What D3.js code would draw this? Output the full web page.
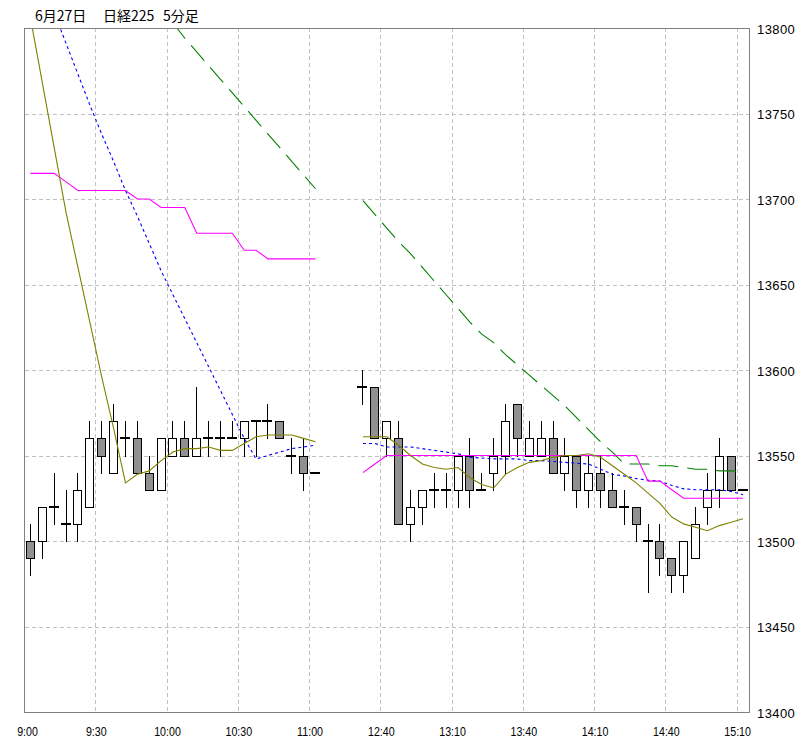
<!DOCTYPE html>
<html><head><meta charset="utf-8">
<script src="https://cdn.jsdelivr.net/npm/d3@7"></script>
<style>body{margin:0;background:#fff;} svg{display:block;}</style>
</head><body><svg id="c" width="802" height="754"></svg>
<script>
// ---- data ----
const titleParts = ["6月27日", "日経225", "5分足"];
const slotCount = 61; // 5-minute slots, 25-27 are the lunch gap
const tickSlots = [0, 6, 12, 18, 24, 30, 36, 42, 48, 54, 60];
const tickLabels = ["9:00", "9:30", "10:00", "10:30", "11:00", "12:40", "13:10", "13:40", "14:10", "14:40", "15:10"];
const yTicks = [13400, 13450, 13500, 13550, 13600, 13650, 13700, 13750, 13800];

const openV  = [13500,13500,13520,13510,13510,13520,13560,13540,13560,13560,13540,13530,13550,13560,13550,13560,13560,13560,13560,13570,13570,13570,13550,13550,13540,null,null,null,13590,13590,13560,13560,13510,13520,13530,13530,13530,13550,13530,13540,13550,13580,13550,13550,13560,13540,13550,13530,13540,13530,13520,13520,13500,13500,13490,13480,13490,13520,13530,13550,13530];
const highV  = [13510,13520,13540,13530,13540,13570,13570,13580,13570,13570,13550,13560,13570,13570,13590,13570,13570,13570,13570,13570,13580,13570,13560,13560,13540,null,null,null,13600,13590,13570,13570,13530,13530,13540,13540,13550,13560,13540,13560,13580,13580,13570,13570,13570,13560,13550,13550,13550,13540,13530,13520,13510,13510,13490,13500,13520,13540,13560,13550,13530];
const lowV   = [13480,13490,13510,13500,13500,13520,13540,13540,13550,13540,13530,13530,13550,13550,13550,13550,13550,13560,13550,13550,13560,13560,13540,13530,13540,null,null,null,13580,13560,13550,13510,13500,13510,13520,13520,13520,13520,13530,13530,13540,13550,13550,13550,13540,13530,13520,13520,13520,13520,13510,13500,13470,13480,13470,13470,13490,13510,13520,13530,13530];
const closeV = [13490,13520,13520,13510,13530,13560,13550,13570,13560,13540,13530,13560,13560,13550,13560,13560,13560,13560,13570,13570,13570,13560,13550,13540,13540,null,null,null,13590,13560,13570,13510,13520,13530,13530,13530,13550,13530,13530,13550,13570,13560,13560,13560,13540,13550,13530,13540,13530,13520,13520,13510,13500,13490,13480,13500,13510,13530,13550,13530,13530];

const maShort = [13806,13768,13730,13692,13660,13628,13596,13566,13534,13539,13541,13547,13552,13554,13554,13555,13553,13553,13557,13561,13562,13562,13562,13560,13558,null,null,null,13561,13561,13561,13556,13550,13545,13543,13542,13543,13537,13533,13531,13539,13543,13546,13547,13549,13550,13550,13551,13549,13544,13539,13534,13528,13522,13514,13510,13508,13506,13509,13511,13513];
const maMid   = [null,null,13809,13791,13773,13755,13738,13722,13705,13690,13674,13658,13644,13630,13616,13602,13588,13574,13560,13548,13550,13552,13554,13555,13556,null,null,null,13557,13557,13555,13555,13555,13554,13553,13552,13551,13549,13548.5,13548,13548,13548,13547,13547,13546.5,13546,13545.5,13545,13542,13539,13538,13536.5,13535.5,13535,13532.5,13530.5,13530,13530,13530,13529,13527];
const maLong  = [null,null,null,null,null,null,null,null,null,null,null,null,13803,13794,13786,13778,13770,13762,13754,13746,13738,13730,13722,13714,13706,null,null,null,13699,13691,13683,13675,13668,13660,13652,13644,13636,13628,13621,13616,13609,13603,13597,13591,13585,13579,13572,13565,13558,13552,13545,13545,13545,13544,13544,13543,13542,13542,13541,13541,13540.5];
const stepLine = [13715,13715,13715,13710,13705,13705,13705,13705,13705,13700,13700,13695,13695,13695,13680,13680,13680,13680,13670,13670,13665,13665,13665,13665,13665,null,null,null,13540,13545,13550,13550,13550,13550,13550,13550,13550,13550,13550,13550,13550,13550,13550,13550,13550,13550,13550,13550,13550,13550,13550,13550,13535,13535,13530,13525,13525,13525,13525,13525,13525];

// ---- layout ----
const L = 24.5, R = 749, T = 28, B = 712;
const svg = d3.select("#c");
const x = d3.scaleBand().domain(d3.range(slotCount)).range([L, R]).padding(0);
const xb = d3.scaleLinear().domain([0, slotCount]).range([L, R]);
const y = d3.scaleLinear().domain([13400, 13800]).range([B, T]);
const cx = i => Math.floor(x(i) + x.bandwidth() / 2);

svg.append("rect").attr("width", 802).attr("height", 754).attr("fill", "#fff");

// title
const titleX = [35, 103, 163];
svg.append("g").selectAll("text").data(titleParts).join("text")
  .attr("x", (d, i) => titleX[i]).attr("y", 21)
  .attr("font-family", "'Noto Sans CJK JP', sans-serif").attr("font-size", 14)
  .attr("fill", "#000").text(d => d);

// grid
const grid = svg.append("g").attr("stroke", "#c0c0c0").attr("stroke-dasharray", "4,3").attr("shape-rendering", "crispEdges");
grid.selectAll("line.h").data(yTicks.filter(v => v > 13400 && v < 13800)).join("line")
  .attr("x1", L).attr("x2", R).attr("y1", d => Math.round(y(d)) + 0.5).attr("y2", d => Math.round(y(d)) + 0.5);
grid.selectAll("line.v").data(tickSlots.slice(1)).join("line")
  .attr("y1", T).attr("y2", B).attr("x1", d => Math.floor(xb(d)) + 0.5).attr("x2", d => Math.floor(xb(d)) + 0.5);

// axes labels
const xAxis = d3.axisBottom(xb).tickValues(tickSlots).tickFormat((d, i) => tickLabels[i]).tickSize(0).tickPadding(15);
const gx = svg.append("g").attr("transform", `translate(0,${B})`).call(xAxis);
gx.select(".domain").remove();
gx.selectAll("text").attr("font-family", "'Liberation Sans', Arial, sans-serif").attr("font-size", 13)
  .attr("fill", "#000").attr("transform", (d, i) => `translate(${i === 0 ? 2.5 : 0},0) scale(0.82,1)`);

const yAxis = d3.axisRight(y).tickValues(yTicks).tickFormat(d3.format("d")).tickSize(0).tickPadding(8);
const gy = svg.append("g").attr("transform", `translate(${R},0)`).call(yAxis);
gy.select(".domain").remove();
gy.selectAll("text").attr("font-family", "'Liberation Sans', Arial, sans-serif").attr("font-size", 13)
  .attr("letter-spacing", 0.4).attr("fill", "#000").attr("dy", "0.42em");

// candles
const idx = d3.range(slotCount).filter(i => openV[i] != null);
const cg = svg.append("g").attr("shape-rendering", "crispEdges");
cg.selectAll("line.wick").data(idx.filter(i => highV[i] !== lowV[i])).join("line")
  .attr("x1", i => cx(i) + 0.5).attr("x2", i => cx(i) + 0.5)
  .attr("y1", i => Math.round(y(highV[i]))).attr("y2", i => Math.round(y(lowV[i])) + 1)
  .attr("stroke", "#000").attr("stroke-width", 1);
cg.selectAll("rect.body").data(idx.filter(i => openV[i] !== closeV[i])).join("rect")
  .attr("x", i => cx(i) - 4 + 0.5).attr("width", 8)
  .attr("y", i => Math.round(y(Math.max(openV[i], closeV[i]))) + 0.5)
  .attr("height", i => Math.round(y(Math.min(openV[i], closeV[i]))) - Math.round(y(Math.max(openV[i], closeV[i]))))
  .attr("fill", i => closeV[i] > openV[i] ? "#fff" : "#909090")
  .attr("stroke", "#000").attr("stroke-width", 1);
cg.selectAll("rect.doji").data(idx.filter(i => openV[i] === closeV[i])).join("rect")
  .attr("x", i => cx(i) - 5).attr("width", 10)
  .attr("y", i => Math.round(y(openV[i])) - 1).attr("height", 2)
  .attr("fill", "#000");

// indicator lines
svg.append("defs").append("clipPath").attr("id", "plot").append("rect")
  .attr("x", L).attr("y", T).attr("width", R - L).attr("height", B - T);
const lg = svg.append("g").attr("clip-path", "url(#plot)").attr("fill", "none");
const line = d3.line().defined(d => d[1] != null).x(d => x(d[0]) + x.bandwidth() / 2).y(d => y(d[1]));
const series = [
  { v: maLong, color: "#008000", dash: "20,9" },
  { v: maMid, color: "#0000ff", dash: "3,3" },
  { v: stepLine, color: "#ff00ff", dash: null },
  { v: maShort, color: "#808000", dash: null }
];
series.forEach(s => {
  lg.append("path").datum(s.v.map((v, i) => [i, v]))
    .attr("d", line).attr("stroke", s.color).attr("stroke-width", 1.1)
    .attr("stroke-dasharray", s.dash);
});

// frame
svg.append("rect").attr("x", L).attr("y", T + 0.5).attr("width", Math.floor(R) - L).attr("height", B - T)
  .attr("fill", "none").attr("stroke", "#808080").attr("stroke-width", 1).attr("shape-rendering", "crispEdges");
</script></body></html>
